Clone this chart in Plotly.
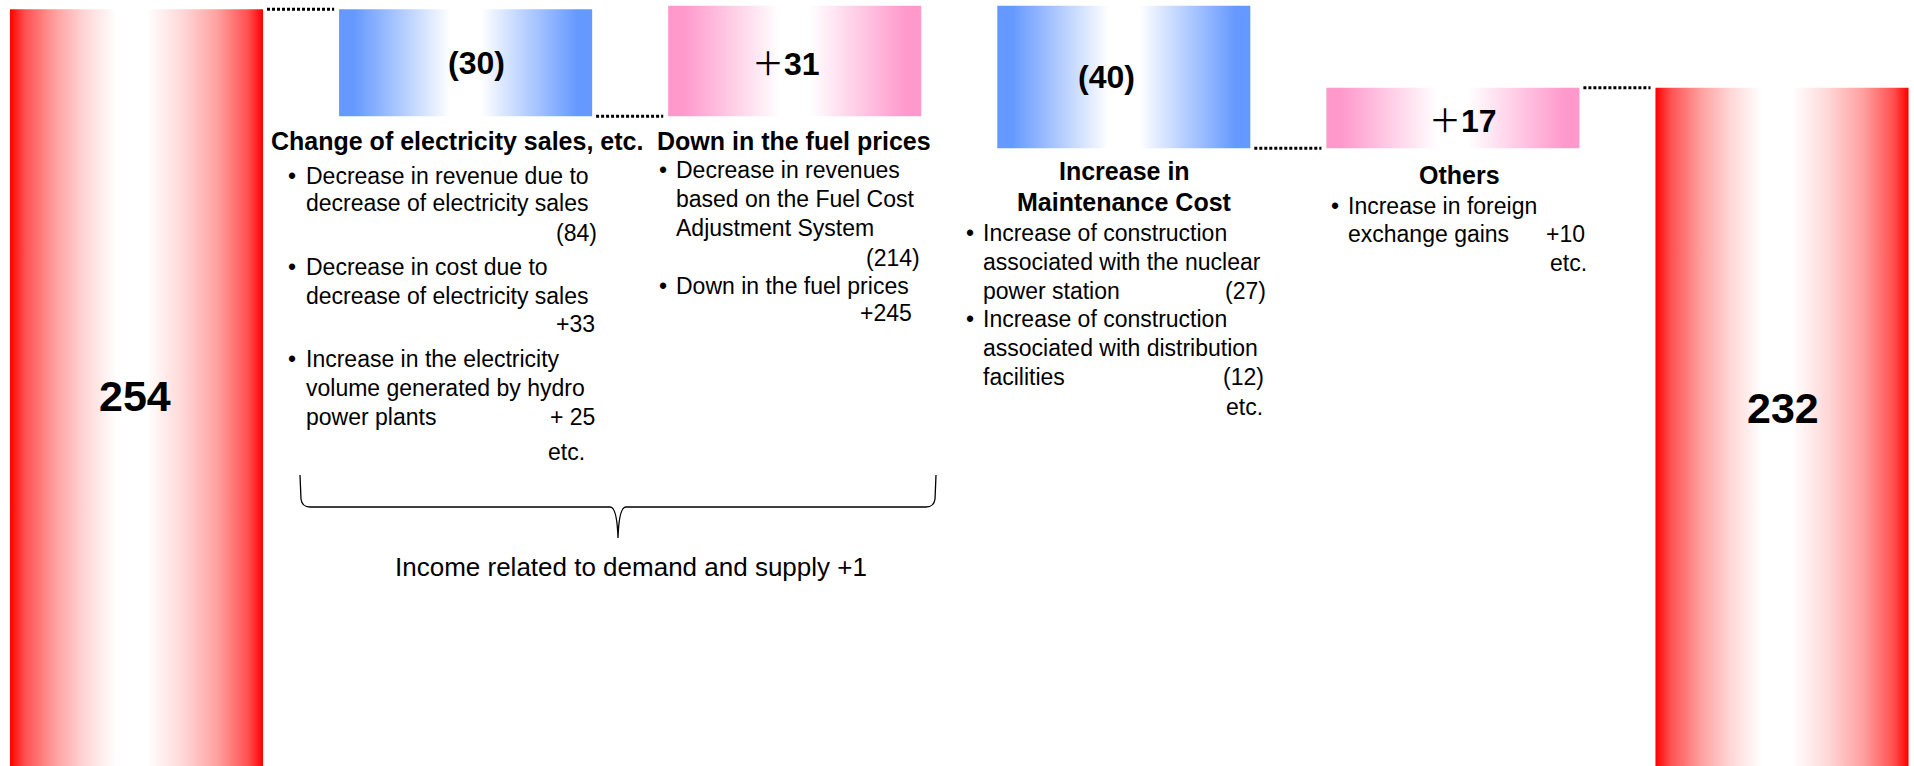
import plotly.graph_objects as go

# ---------------- data ----------------
categories = ["FY start", "Change of electricity sales, etc.", "Down in the fuel prices",
              "Increase in Maintenance Cost", "Others", "FY end"]
values = [254, -30, 31, -40, 17, 232]
measures = ["total", "relative", "relative", "relative", "relative", "total"]
value_labels = ["254", "(30)", "＋31", "(40)", "＋17", "232"]
connector_shown = [True, True, False, True, True]

# ---------------- layout constants ----------------
W, H = 1914, 766
BAR_W = 0.769
X_RANGE = [-0.4148, 5.4011]
Y_RANGE = [41.7, 256.6]
FONT = "Liberation Sans, Arial, sans-serif"

RED, BLUE, PINK = "#ff0000", "#6699ff", "#ff99cc"


def px(x):
    return x / W


def py(y):
    return 1 - y / H


def scale(c, kind):
    if kind == "total":
        return [[0, c], [0.06, "#ff5050"], [0.18, "#ffa0a0"], [0.3, "#ffd8d8"],
                [0.42, "#ffffff"], [0.54, "#ffffff"], [0.68, "#ffd8d8"],
                [0.82, "#ffa0a0"], [0.94, "#ff5050"], [1, c]]
    return [[0, c], [0.06, c], [0.44, "#ffffff"], [0.56, "#ffffff"], [0.94, c], [1, c]]


def fmt_label(s):
    # render the full-width plus sign with a CJK font, digits bold
    if s.startswith("＋"):
        return ("<span style='font-family:Noto Sans CJK JP'>＋</span>"
                f"<b>{s[1:]}</b>")
    return f"<b>{s}</b>"


fig = go.Figure()

# compute bases / tops from data
bases, tops = [], []
running = 0
for v, m in zip(values, measures):
    if m == "total":
        b, t = 0, v
        running = v
    else:
        b, t = running, running + v
        running = running + v
    bases.append(b)
    tops.append(t)

for i, (b, t, m, v) in enumerate(zip(bases, tops, measures, values)):
    if m == "total":
        col = RED
    else:
        col = PINK if v > 0 else BLUE
    x0, x1 = i - BAR_W / 2, i + BAR_W / 2
    fig.add_trace(go.Scatter(
        x=[x0, x1, x1, x0, x0], y=[b, b, t, t, b],
        mode="lines", fill="toself",
        line=dict(width=0, color="rgba(0,0,0,0)"),
        fillgradient=dict(type="horizontal", colorscale=scale(col, m)),
        hoverinfo="skip", showlegend=False,
    ))

# connectors (dotted)
for i in range(len(values) - 1):
    if not connector_shown[i]:
        continue
    level = tops[i]
    fig.add_trace(go.Scatter(
        x=[i + BAR_W / 2 + 0.012, i + 1 - BAR_W / 2 - 0.015], y=[level, level],
        mode="lines", line=dict(color="#000000", width=3, dash="3px,2px"),
        hoverinfo="skip", showlegend=False,
    ))

annotations = []

# value labels
label_shift = [0, 11, -9, -17, 10, 0]
for i, (b, t, m, lab) in enumerate(zip(bases, tops, measures, value_labels)):
    if m == "total":
        continue
    annotations.append(dict(
        x=i, y=(b + t) / 2, xref="x", yref="y", text=fmt_label(lab), showarrow=False,
        xshift=label_shift[i], font=dict(family=FONT, size=32, color="#000000"),
        xanchor="center", yanchor="middle"))

annotations.append(dict(x=px(135), y=py(396), xref="paper", yref="paper", text="<b>254</b>",
                        showarrow=False, font=dict(family=FONT, size=43, color="#000"),
                        xanchor="center", yanchor="middle"))
annotations.append(dict(x=px(1783), y=py(408), xref="paper", yref="paper", text="<b>232</b>",
                        showarrow=False, font=dict(family=FONT, size=43, color="#000"),
                        xanchor="center", yanchor="middle"))


def txt(x, y, s, anchor="left", size=23, bold=False):
    annotations.append(dict(
        x=px(x), y=py(y), xref="paper", yref="paper",
        text=f"<b>{s}</b>" if bold else s, showarrow=False,
        font=dict(family=FONT, size=size, color="#000000"),
        xanchor=anchor, yanchor="middle"))


# category titles
txt(457, 141, "Change of electricity sales, etc.", "center", 25, True)
txt(794, 141, "Down in the fuel prices", "center", 25, True)
txt(1124, 171, "Increase in", "center", 25, True)
txt(1124, 202, "Maintenance Cost", "center", 25, True)
txt(1459, 175, "Others", "center", 25, True)

BUL = "•"
# column 1
txt(286, 176, BUL); txt(304, 176, "Decrease in revenue due to")
txt(304, 203, "decrease of electricity sales")
txt(599, 233, "(84)", "right")
txt(286, 267, BUL); txt(304, 267, "Decrease in cost due to")
txt(304, 296, "decrease of electricity sales")
txt(597, 324, "+33", "right")
txt(286, 359, BUL); txt(304, 359, "Increase in the electricity")
txt(304, 388, "volume generated by hydro")
txt(304, 417, "power plants"); txt(597, 417, "+ 25", "right")
txt(566, 452, "etc.", "center")

# column 2
txt(657, 170, BUL); txt(674, 170, "Decrease in revenues")
txt(674, 199, "based on the Fuel Cost")
txt(674, 228, "Adjustment System")
txt(922, 258, "(214)", "right")
txt(657, 286, BUL); txt(674, 286, "Down in the fuel prices")
txt(914, 313, "+245", "right")

# column 3
txt(964, 233, BUL); txt(981, 233, "Increase of construction")
txt(981, 262, "associated with the nuclear")
txt(981, 291, "power station"); txt(1268, 291, "(27)", "right")
txt(964, 319, BUL); txt(981, 319, "Increase of construction")
txt(981, 348, "associated with distribution")
txt(981, 377, "facilities"); txt(1266, 377, "(12)", "right")
txt(1265, 407, "etc.", "right")

# column 4
txt(1329, 206, BUL); txt(1346, 206, "Increase in foreign")
txt(1346, 234, "exchange gains"); txt(1587, 234, "+10", "right")
txt(1589, 263, "etc.", "right")

# bottom summary
txt(631, 567, "Income related to demand and supply +1", "center", 26)

# brace as path (paper coords)
L, R, C = 300, 936, 618
yt, ym, yb = 475, 507, 538


def P(x, y):
    return f"{px(x):.5f},{py(y):.5f}"


path = (f"M {P(L, yt)} L {P(L + 1, ym - 8)} Q {P(L + 2, ym)} {P(L + 10, ym)} "
        f"L {P(C - 8, ym)} Q {P(C - 1, ym)} {P(C, yb)} "
        f"Q {P(C + 1, ym)} {P(C + 8, ym)} L {P(R - 10, ym)} "
        f"Q {P(R - 2, ym)} {P(R - 1, ym - 8)} L {P(R, yt)}")
shapes = [dict(type="path", xref="paper", yref="paper", path=path,
               line=dict(color="#000000", width=1.3))]

fig.update_layout(
    width=W, height=H,
    margin=dict(l=0, r=0, t=0, b=0),
    paper_bgcolor="#ffffff", plot_bgcolor="#ffffff",
    xaxis=dict(range=X_RANGE, visible=False, showgrid=False, zeroline=False, fixedrange=True),
    yaxis=dict(range=Y_RANGE, visible=False, showgrid=False, zeroline=False, fixedrange=True),
    annotations=annotations, shapes=shapes, showlegend=False,
)

fig.write_html("out.html", config={"displayModeBar": False})
